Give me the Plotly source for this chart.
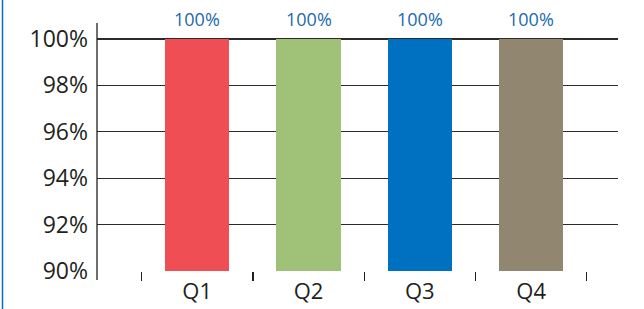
import plotly.graph_objects as go

categories = ["Q1", "Q2", "Q3", "Q4"]
values = [100, 100, 100, 100]
labels = ["100%", "100%", "100%", "100%"]
colors = ["#EF4E55", "#A0C278", "#0070C0", "#918770"]
y_ticks = [90, 92, 94, 96, 98, 100]
y_ticktext = ["90%", "92%", "94%", "96%", "98%", "100%"]

W, H = 644, 309
ml, mr, mt, mb = 97, 26, 23, 38
pw, ph = W - ml - mr, H - mt - mb

fig = go.Figure()
fig.add_trace(go.Bar(
    x=categories, y=values, base=0,
    marker=dict(color=colors, line=dict(width=0)),
    width=0.58,
    hoverinfo="skip",
))

for c, v, t in zip(categories, values, labels):
    fig.add_annotation(x=c, y=v, text=t, showarrow=False, yanchor="bottom",
                       yshift=6, font=dict(family="Open Sans", size=18, color="#1A6AAE"))

# y axis line extending below the x axis (like tick length)
fig.add_shape(type="line", xref="paper", yref="paper",
              x0=0, x1=0, y0=-9 / ph, y1=1, line=dict(color="#231F20", width=1.3))
# blue frame line on the left
fig.add_shape(type="line", xref="paper", yref="paper",
              x0=-94.5 / pw, x1=-94.5 / pw, y0=-mb / ph, y1=1 + mt / ph,
              line=dict(color="#0070C0", width=1.5))

fig.update_layout(
    width=W, height=H,
    margin=dict(l=ml, r=mr, t=mt, b=mb, pad=0, autoexpand=False),
    plot_bgcolor="white", paper_bgcolor="white",
    showlegend=False,
    bargap=0,
    font=dict(family="Open Sans", color="#231F20"),
)
fig.update_xaxes(
    type="category", range=[-0.9, 3.78], automargin=False,
    tickson="boundaries", ticks="outside", ticklen=9, tickwidth=1.3, tickcolor="#231F20",
    showline=False, showgrid=False, zeroline=False,
    ticklabelstandoff=5,
    tickfont=dict(size=22, color="#231F20"),
)
fig.update_yaxes(
    range=[90, 100.69], automargin=False,
    tickvals=y_ticks, ticktext=y_ticktext,
    showgrid=True, gridcolor="#2b2b2b", gridwidth=1.3,
    zeroline=False, showline=False, ticks="",
    ticklabelstandoff=8,
    tickfont=dict(size=23, color="#231F20"),
)

fig.write_html("out.html", config={"displayModeBar": False, "staticPlot": True},
               post_script="document.body.style.margin='0';document.body.style.overflow='hidden';")
